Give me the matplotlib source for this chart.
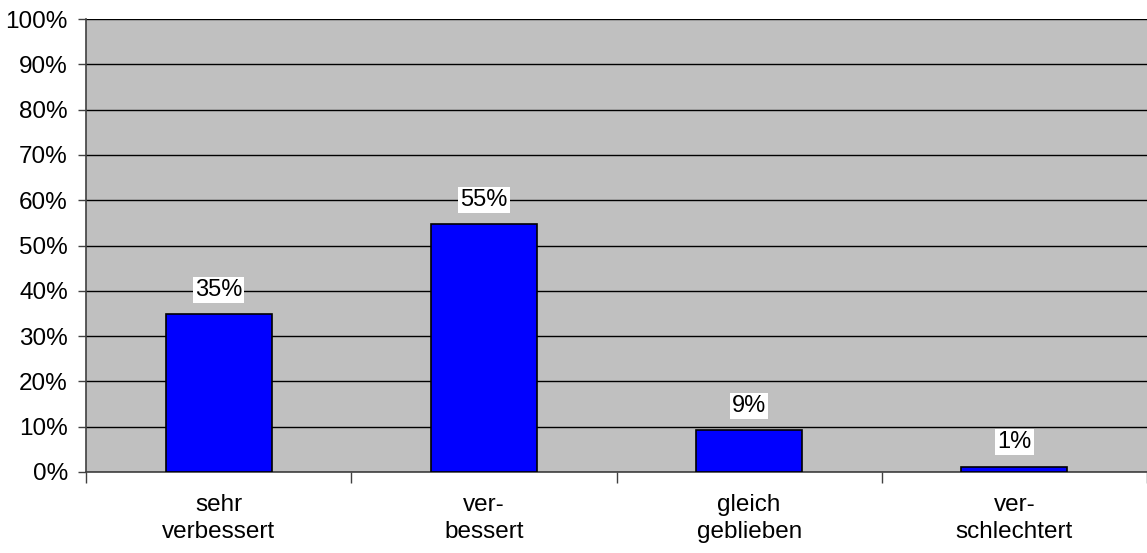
import matplotlib.pyplot as plt
from matplotlib.ticker import MultipleLocator, FixedLocator, PercentFormatter
import numpy as np

plt.rcParams['font.family'] = ['Liberation Sans', 'DejaVu Sans']

categories = ['sehr\nverbessert', 'ver-\nbessert', 'gleich\ngeblieben', 'ver-\nschlechtert']
values = [34.8, 54.7, 9.2, 1.2]
labels = ['35%', '55%', '9%', '1%']

fig = plt.figure(figsize=(11.47, 5.53), dpi=100)
ax = fig.add_axes([0.075, 0.1465, 0.925, 0.819])
ax.set_facecolor('#C0C0C0')

x = np.arange(len(categories))
bars = ax.bar(x, values, width=0.4, color='#0000FF', edgecolor='black', linewidth=1.2, zorder=3)

for xi, v, lab in zip(x, values, labels):
    ax.annotate(lab, (xi, v), xytext=(0, 17.5), textcoords='offset points',
                ha='center', va='center', fontsize=17,
                bbox=dict(facecolor='white', edgecolor='none', pad=1.5), zorder=4)

ax.set_xlim(-0.5, len(categories) - 0.5)
ax.set_ylim(0, 100)
ax.yaxis.set_major_locator(MultipleLocator(10))
ax.yaxis.set_major_formatter(PercentFormatter(decimals=0))
ax.grid(axis='y', color='black', linewidth=1, zorder=1)

ax.set_xticks(x)
ax.set_xticklabels(categories, linespacing=1.3)
ax.xaxis.set_minor_locator(FixedLocator(np.arange(len(categories) + 1) - 0.5))
ax.tick_params(axis='x', which='major', length=0, pad=16, labelsize=17.5)
ax.tick_params(axis='x', which='minor', length=8, color='#404040', width=1)
ax.tick_params(axis='y', length=6, color='#404040', width=1, labelsize=17.5, pad=7)

for s in ['top', 'right']:
    ax.spines[s].set_visible(False)
for s in ['left', 'bottom']:
    ax.spines[s].set_color('#404040')
    ax.spines[s].set_linewidth(1.2)

plt.savefig('out.png', dpi=100)
